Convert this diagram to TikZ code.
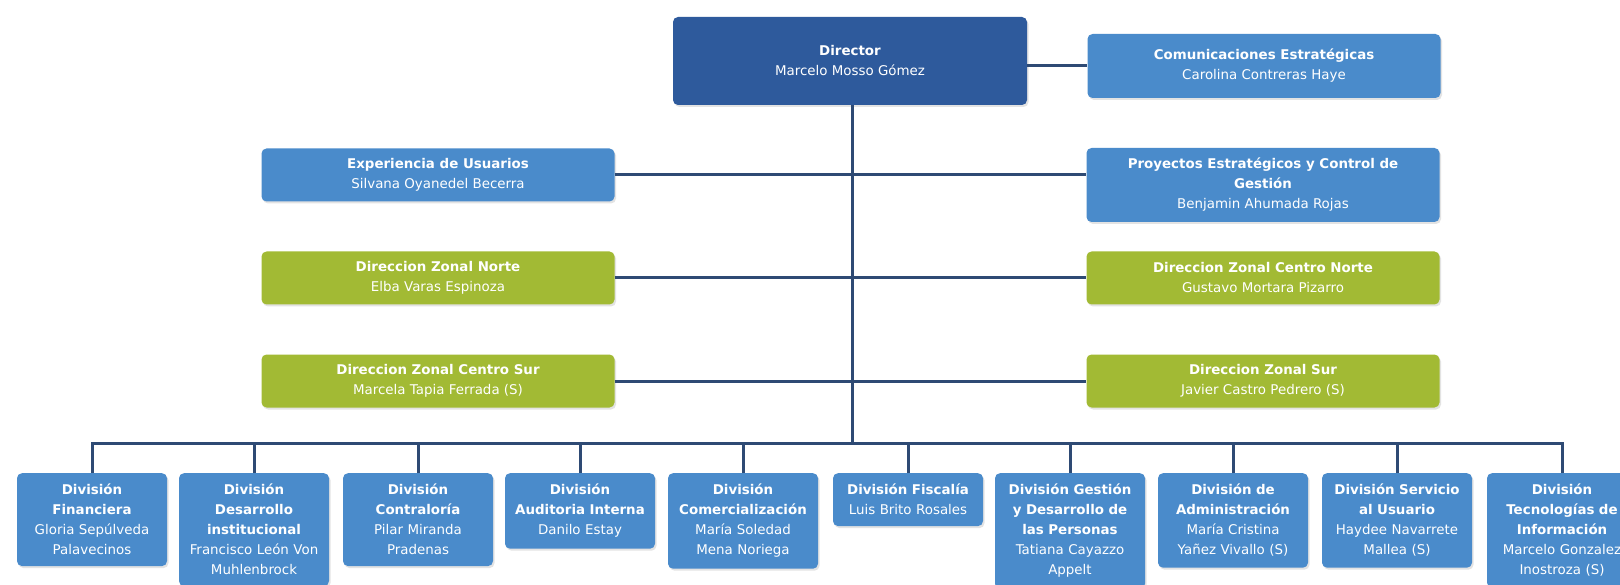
\documentclass[tikz,border=0pt]{standalone}
\usepackage{fontspec}
\setmainfont{DejaVu Sans}
\usetikzlibrary{shadows}
\definecolor{dirblue}{HTML}{2E5A9C}
\definecolor{boxblue}{HTML}{4A8BCB}
\definecolor{boxgreen}{HTML}{A2BA34}
\definecolor{linecol}{HTML}{2E4A74}
\tikzset{
  base/.style={rounded corners=5pt, text=white, align=center, inner xsep=3pt,
    inner ysep=10pt, font=\fontsize{13.4}{20}\selectfont,
    drop shadow={opacity=0.22, shadow xshift=1.5pt, shadow yshift=-2pt}},
  dirbox/.style={base, fill=dirblue, minimum width=354pt, minimum height=88pt},
  sidebox/.style={base, fill=boxblue, minimum width=353pt},
  zonebox/.style={base, fill=boxgreen, minimum width=353pt, minimum height=53pt},
  divbox/.style={base, fill=boxblue, minimum width=150pt, text width=146pt, anchor=north, inner ysep=11pt, inner xsep=2pt},
  conn/.style={draw=linecol, line width=3pt},
}
\begin{document}
\begin{tikzpicture}[x=1pt,y=-1pt]
\clip (0,0) rectangle (1620,585);
\fill[white] (0,0) rectangle (1620,585);

% top
\node[dirbox] (dir) at (850,61) {\textbf{Director}\\Marcelo Mosso Gómez};
\node[sidebox, minimum height=64pt] (com) at (1264,66) {\textbf{Comunicaciones Estratégicas}\\Carolina Contreras Haye};
\node[sidebox, minimum height=53pt] (exp) at (438,175) {\textbf{Experiencia de Usuarios}\\Silvana Oyanedel Becerra};
\node[sidebox, minimum height=74pt] (pro) at (1263,185) {\textbf{Proyectos Estratégicos y Control de}\\\textbf{Gestión}\\Benjamin Ahumada Rojas};
\node[zonebox] (zn) at (438,278) {\textbf{Direccion Zonal Norte}\\Elba Varas Espinoza};
\node[zonebox] (zcn) at (1263,278) {\textbf{Direccion Zonal Centro Norte}\\Gustavo Mortara Pizarro};
\node[zonebox] (zcs) at (438,381) {\textbf{Direccion Zonal Centro Sur}\\Marcela Tapia Ferrada (S)};
\node[zonebox] (zs) at (1263,381) {\textbf{Direccion Zonal Sur}\\Javier Castro Pedrero (S)};

% bottom divisions
\node[divbox] (d1) at (92,473) {\textbf{División}\\\textbf{Financiera}\\Gloria Sepúlveda\\Palavecinos};
\node[divbox] (d2) at (254,473) {\textbf{División}\\\textbf{Desarrollo}\\\textbf{institucional}\\Francisco León Von\\Muhlenbrock};
\node[divbox] (d3) at (418,473) {\textbf{División}\\\textbf{Contraloría}\\Pilar Miranda\\Pradenas};
\node[divbox] (d4) at (580,473) {\textbf{División}\\\textbf{Auditoria Interna}\\Danilo Estay};
\node[divbox] (d5) at (743,473) {\textbf{División}\\\textbf{Comercialización}\\María Soledad\\Mena Noriega};
\node[divbox] (d6) at (908,473) {\textbf{División Fiscalía}\\Luis Brito Rosales};
\node[divbox] (d7) at (1070,473) {\textbf{División Gestión}\\\textbf{y Desarrollo de}\\\textbf{las Personas}\\Tatiana Cayazzo\\Appelt};
\node[divbox] (d8) at (1233,473) {\textbf{División de}\\\textbf{Administración}\\María Cristina\\Yañez Vivallo (S)};
\node[divbox] (d9) at (1397,473) {\textbf{División Servicio}\\\textbf{al Usuario}\\Haydee Navarrete\\Mallea (S)};
\node[divbox] (d10) at (1562,473) {\textbf{División}\\\textbf{Tecnologías de}\\\textbf{Información}\\Marcelo Gonzalez\\Inostroza (S)};

% connectors
\coordinate (bus) at (852,443);
\draw[conn] (com.west -| dir.east) -- (com.west);
\draw[conn] (dir.south -| bus) -- (bus);
\draw[conn] (exp.east) -- (exp.east -| pro.west);
\draw[conn] (zn.east) -- (zcn.west);
\draw[conn] (zcs.east) -- (zs.west);
\draw[conn, line cap=rect] (d1.north |- bus) -- (d10.north |- bus);
\foreach \n in {d1,d2,d3,d4,d5,d6,d7,d8,d9,d10}{
  \draw[conn] (\n.north) -- (\n.north |- bus);
}
\end{tikzpicture}
\end{document}
